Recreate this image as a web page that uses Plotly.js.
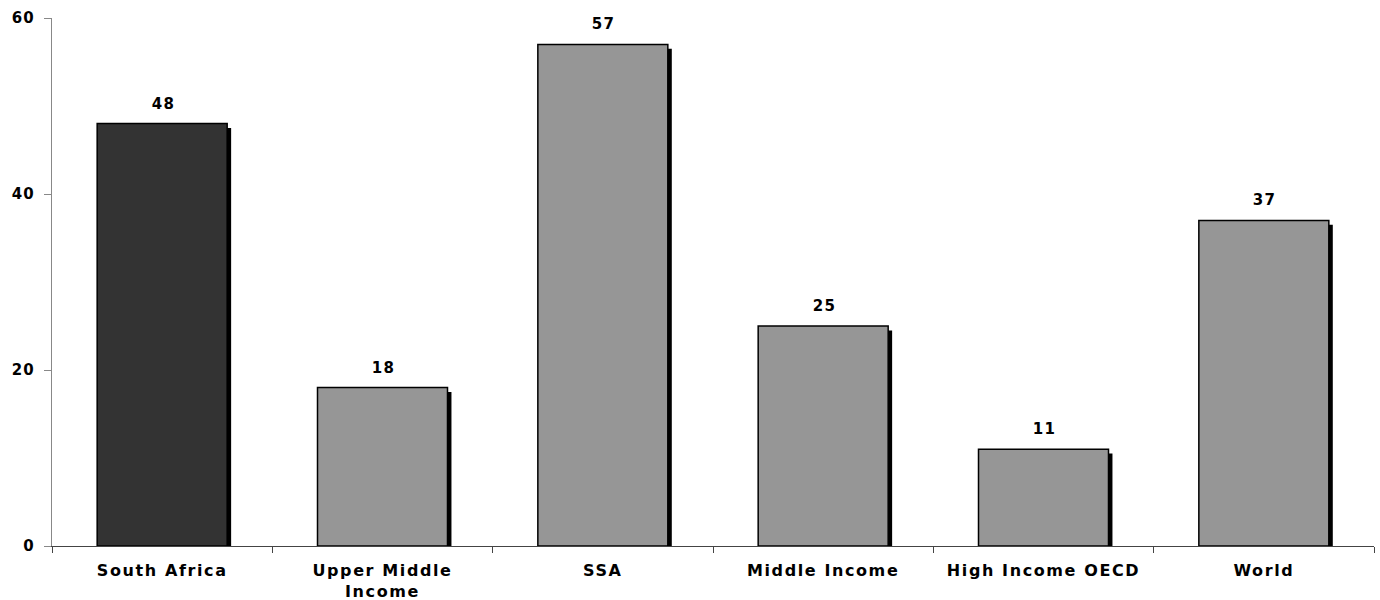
<!DOCTYPE html>
<html><head><meta charset="utf-8">
<script src="https://cdn.plot.ly/plotly-3.0.1.min.js"></script>
<style>
html,body{margin:0;padding:0;background:#fff}#c{width:1380px;height:600px}
#c .xtick text{letter-spacing:1.6px}
#c .ytick text, #c .annotation text{letter-spacing:1.2px}
</style>
</head><body><div id="c"></div>
<script>
const categories = ["South Africa", "Upper Middle<br>Income", "SSA", "Middle Income", "High Income OECD", "World"];
const values = [48, 18, 57, 25, 11, 37];
const barColors = ["#333333", "#969696", "#969696", "#969696", "#969696", "#969696"];
const yTicks = [0, 20, 40, 60];

const FONT = "DejaVu Sans, Liberation Sans, Arial, sans-serif";
const W = 0.59;
const shadow = {
  type: "bar", x: categories, y: values.map(v => v - 0.5), width: W, offset: -W/2 + 0.018,
  marker: {color: "#000000", line: {width: 0}}, hoverinfo: "skip", showlegend: false
};
const bars = {
  type: "bar", x: categories, y: values, width: W, offset: -W/2,
  marker: {color: barColors, line: {color: "#000000", width: 1.5}},
  showlegend: false
};
const annotations = categories.map((c, i) => ({
  x: c, y: values[i], xref: "x", yref: "y", text: String(values[i]),
  showarrow: false, yanchor: "bottom", xanchor: "center", yshift: 9, xshift: 1,
  font: {family: FONT, size: 15, color: "#000", weight: "bold"}
}));
const layout = {
  width: 1380, height: 600, barmode: "overlay",
  margin: {l: 52, r: 6, t: 18, b: 54},
  paper_bgcolor: "#fff", plot_bgcolor: "#fff",
  font: {family: FONT, size: 16, color: "#000", weight: "bold"},
  annotations: annotations,
  xaxis: {showline: true, linecolor: "#444", linewidth: 1, ticks: "outside", tickson: "boundaries",
          ticklen: 6, tickcolor: "#444", showgrid: false, zeroline: false,
          tickfont: {family: FONT, size: 16, weight: "bold"}, ticklabelstandoff: 10},
  yaxis: {range: [0, 60], tickvals: yTicks, showline: true, linecolor: "#888", linewidth: 1,
          ticks: "outside", ticklen: 7, tickcolor: "#888", showgrid: false, zeroline: false,
          tickfont: {family: FONT, size: 15, weight: "bold"}, ticklabelstandoff: 6}
};
Plotly.newPlot("c", [shadow, bars], layout, {displayModeBar: false, staticPlot: true});
</script></body></html>
